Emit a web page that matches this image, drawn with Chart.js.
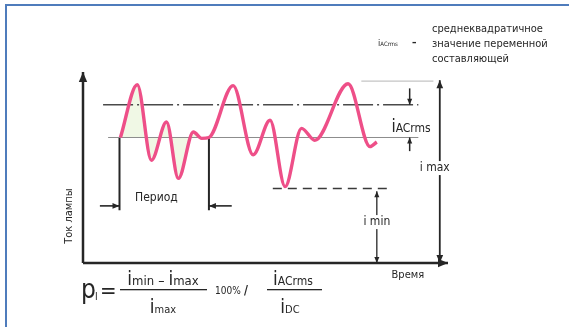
<!DOCTYPE html>
<html>
<head>
<meta charset="utf-8">
<script src="https://cdn.jsdelivr.net/npm/chart.js@4.4.1/dist/chart.umd.min.js"></script>
<style>
html, body { margin: 0; padding: 0; background: #fff; }
#wrap { position: relative; width: 569px; height: 327px; overflow: hidden; }
#frame { position: absolute; left: 5px; top: 4px; width: 600px; height: 400px;
  border-top: 2px solid #4f7cbc; border-left: 2px solid #4f7cbc; }
canvas { position: absolute; left: 0; top: 0; }
</style>
</head>
<body>
<div id="wrap"><div id="frame"></div><canvas id="c" width="569" height="327"></canvas></div>
<script>
// lamp current waveform (time / current, arbitrary units)
const waveT = [4.1, 5.95, 7.5, 9.15, 10.45, 12.1, 13.0, 13.8, 16.45, 18.65, 20.5, 22.15, 23.95, 25.4, 29.05, 31.45, 32.2];
const waveI = [69, 98, 56.5, 77.5, 46.5, 72, 68.5, 69, 97.5, 59.5, 78.5, 42, 74, 67.5, 98.5, 64, 66.5];

// reference levels
const levelDC = 69;
const levelRms = 87;
const levelMax = 100;
const levelMin = 41;

// where each level line runs (time)
const dcSpan = [2.75, 36.75];
const rmsSpan = [2.2, 36.75];
const maxSpan = [30.5, 38.4];
const minSpan = [20.8, 33.5];

// one period
const periodT = [4.0, 13.8];
const periodFoot = 29;
const periodArrowI = 31.4;

const axisTMax = 40;
const axisIMax = 105;

const ink = '#262626';
const font = "'Liberation Sans Narrow', 'DejaVu Sans Condensed', 'Liberation Sans', sans-serif";

function $ (sel, el=document){ return el.querySelector(sel); }
const pts = (ts, is) => ts.map((t, k) => ({ x: t, y: is[k] }));
const hline = (span, y) => [{ x: span[0], y }, { x: span[1], y }];
const vline = (t, a, b) => [{ x: t, y: a }, { x: t, y: b }];

// arrows: [t1, i1, t2, i2, heads, width, headLen]
const arrows = [
  [0, 0, 0, axisIMax, 'end', 2.5, 10],
  [0, 0, axisTMax, 0, 'end', 2.5, 10],
  [1.85, periodArrowI, periodT[0], periodArrowI, 'end', 1.6, 7],
  [16.3, periodArrowI, periodT[1], periodArrowI, 'end', 1.6, 7],
  [35.8, 96, 35.8, levelRms, 'end', 1.5, 6],
  [35.8, 61.5, 35.8, levelDC, 'end', 1.5, 6],
  [39.1, 0, 39.1, levelMax + 0.5, 'both', 1.8, 8],
  [32.2, 0, 32.2, levelMin - 1.5, 'both', 1.3, 6]
];

// labels placed in chart units: [text, t, i, size, rotate]
const labels = [
  ['Период', 8.05, 35.7, 12, 0],
  ['i max', 38.55, 52.2, 12, 0],
  ['i min', 32.2, 22.5, 12, 0],
  ['Время', 35.6, -6.6, 11, 0],
  ['Ток лампы', -1.5, 25.8, 11, -Math.PI / 2]
];

function drawArrow(ctx, x1, y1, x2, y2, heads, w, len){
  const a = Math.atan2(y2 - y1, x2 - x1);
  const hw = len * 0.42;
  ctx.save();
  ctx.strokeStyle = ink; ctx.fillStyle = ink; ctx.lineWidth = w;
  ctx.beginPath(); ctx.moveTo(x1, y1); ctx.lineTo(x2, y2); ctx.stroke();
  const head = (x, y, ang) => {
    ctx.beginPath();
    ctx.moveTo(x, y);
    ctx.lineTo(x - len * Math.cos(ang) + hw * Math.sin(ang), y - len * Math.sin(ang) - hw * Math.cos(ang));
    ctx.lineTo(x - len * Math.cos(ang) - hw * Math.sin(ang), y - len * Math.sin(ang) + hw * Math.cos(ang));
    ctx.closePath(); ctx.fill();
  };
  if (heads === 'end' || heads === 'both') head(x2, y2, a);
  if (heads === 'both') head(x1, y1, a + Math.PI);
  ctx.restore();
}

// runs of [text, size] drawn on one baseline, centred on cx
function drawRuns(ctx, runs, cx, base, align='center'){
  let total = 0;
  runs.forEach(r => { ctx.font = `${r[1]}px ${font}`; total += ctx.measureText(r[0]).width; });
  let x = align === 'center' ? cx - total / 2 : cx;
  runs.forEach(r => {
    ctx.font = `${r[1]}px ${font}`;
    ctx.fillText(r[0], x, base + (r[2] || 0));
    x += ctx.measureText(r[0]).width;
  });
  return total;
}

const overlay = {
  id: 'overlay',
  afterDatasetsDraw(chart){
    const { ctx, scales: { x, y } } = chart;
    arrows.forEach(a => drawArrow(ctx, x.getPixelForValue(a[0]), y.getPixelForValue(a[1]),
      x.getPixelForValue(a[2]), y.getPixelForValue(a[3]), a[4], a[5], a[6]));

    ctx.save();
    ctx.fillStyle = ink;
    ctx.textBaseline = 'middle';
    ctx.textAlign = 'center';
    labels.forEach(l => {
      const px = x.getPixelForValue(l[1]), py = y.getPixelForValue(l[2]);
      ctx.font = `${l[3]}px ${font}`;
      ctx.save();
      ctx.translate(px, py);
      ctx.rotate(l[4]);
      const w = ctx.measureText(l[0]).width;
      ctx.fillStyle = '#fff';
      if (!l[4]) ctx.fillRect(-w / 2 - 1, -l[3] / 2 - 1, w + 2, l[3] + 2);
      ctx.fillStyle = ink;
      ctx.fillText(l[0], 0, 0);
      ctx.restore();
    });

    // iACrms between the rms arrows
    ctx.textAlign = 'left';
    ctx.textBaseline = 'alphabetic';
    drawRuns(ctx, [['i', 17], ['ACrms', 12]], x.getPixelForValue(35.95), y.getPixelForValue(levelRms - 15));

    // explanation top right
    drawRuns(ctx, [['i', 9], ['ACrms', 6]], 388, 46);
    ctx.font = `bold 10px ${font}`;
    ctx.fillText('–', 412, 46);
    ctx.font = `11px ${font}`;
    ['среднеквадратичное', 'значение переменной', 'составляющей'].forEach((s, k) => {
      ctx.fillText(s, 432, 32 + k * 15);
    });

    // ripple formula
    ctx.font = `26px ${font}`;
    ctx.fillText('p', 81, 298);
    ctx.font = `10px ${font}`;
    ctx.fillText('I', 95, 300);
    ctx.font = `22px ${font}`;
    ctx.fillText('=', 100, 298);
    drawRuns(ctx, [['i', 19], ['min', 13], [' – ', 14], ['i', 19], ['max', 13]], 163, 285);
    ctx.fillRect(120, 289, 87, 1.3);
    drawRuns(ctx, [['i', 19], ['max', 11]], 163, 313);
    ctx.font = `10px ${font}`;
    ctx.fillText('100%', 215, 294);
    ctx.font = `bold 12px ${font}`;
    ctx.fillText('/', 244, 294);
    drawRuns(ctx, [['i', 19], ['ACrms', 12]], 293, 285);
    ctx.fillRect(267, 289, 55, 1.3);
    drawRuns(ctx, [['i', 19], ['DC', 11]], 290, 313);
    ctx.restore();
  }
};

const lineDs = (data, color, width, dash=[]) => ({
  data, borderColor: color, borderWidth: width, borderDash: dash,
  pointRadius: 0, showLine: true, fill: false, clip: false, order: 2
});

new Chart($('#c').getContext('2d'), {
  type: 'scatter',
  data: {
    datasets: [
      {
        data: pts(waveT.slice(0, 8), waveI.slice(0, 8)),
        borderWidth: 0, pointRadius: 0, showLine: true,
        backgroundColor: 'rgba(205,232,170,0.3)',
        fill: { value: levelDC }, cubicInterpolationMode: 'monotone', order: 3
      },
      lineDs(hline(dcSpan, levelDC), '#8c8c8c', 1),
      lineDs(hline(rmsSpan, levelRms), '#4a4a4a', 1.5, [30, 4, 2, 4]),
      lineDs(hline(maxSpan, levelMax), '#b5b5b5', 1),
      lineDs(hline(minSpan, levelMin), '#3a3a3a', 1.5, [9, 6]),
      lineDs(vline(periodT[0], levelDC, periodFoot), ink, 2),
      lineDs(vline(periodT[1], levelDC, periodFoot), ink, 2),
      {
        data: pts(waveT, waveI),
        borderColor: '#ee4f88', borderWidth: 3.4, pointRadius: 0,
        showLine: true, fill: false, clip: false,
        cubicInterpolationMode: 'monotone', order: 1
      }
    ]
  },
  options: {
    responsive: false,
    animation: false,
    layout: { padding: { left: 83, right: 121, top: 72, bottom: 64 } },
    scales: {
      x: { type: 'linear', min: 0, max: axisTMax, display: false },
      y: { type: 'linear', min: 0, max: axisIMax, display: false }
    },
    plugins: { legend: { display: false }, tooltip: { enabled: false } }
  },
  plugins: [overlay]
});
</script>
</body>
</html>
